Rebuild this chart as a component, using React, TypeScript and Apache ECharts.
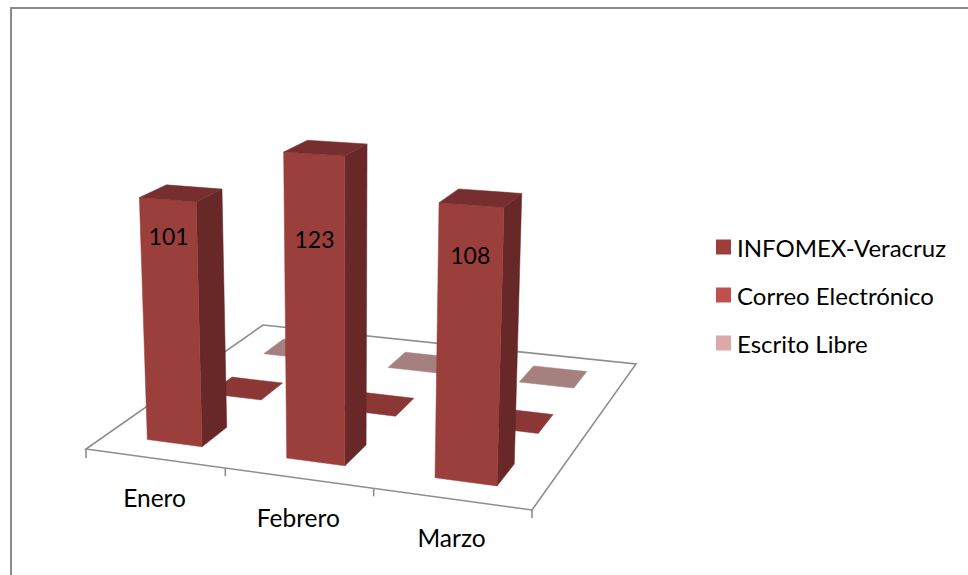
import React, { useEffect, useRef } from "react";
import * as echarts from "echarts";

const categories = ["Enero", "Febrero", "Marzo"];
const infomexVeracruz = [101, 123, 108];
const correoElectronico = [0, 0, 0];
const escritoLibre = [0, 0, 0];
const seriesNames = ["INFOMEX-Veracruz", "Correo Electrónico", "Escrito Libre"];

const FONT = "Lato, 'Noto Sans', sans-serif";
const W = 968;
const H = 575;
const Y_MAX = 140;

// Projection of the 3D floor (u along categories, v into the depth, h upward)
const [X0, Y0, X1, Y1, X2, Y2, X3, Y3] = [86, 449, 532, 510, 636, 364, 263, 325];
const dx1 = X1 - X2, dx2 = X3 - X2, sx = X0 - X1 + X2 - X3;
const dy1 = Y1 - Y2, dy2 = Y3 - Y2, sy = Y0 - Y1 + Y2 - Y3;
const den = dx1 * dy2 - dx2 * dy1;
const pg = (sx * dy2 - dx2 * sy) / den;
const ph = (dx1 * sy - sx * dy1) / den;
const pa = X1 - X0 + pg * X1, pb = X3 - X0 + ph * X3;
const pd = Y1 - Y0 + pg * Y1, pe = Y3 - Y0 + ph * Y3;
const VX = 347, VY = 6500, HEIGHT_K = -0.000385;

function project(u: number, v: number, h = 0): number[] {
  const t = HEIGHT_K * h;
  const w = pg * u + ph * v + 1 + t;
  return [(pa * u + pb * v + X0 + t * VX) / w, (pd * u + pe * v + Y0 + t * VY) / w];
}

const BAR_FRACTION = 0.4;
const LABEL_POS = [0.856, 0.733, 0.826];

const faces = [
  { legend: "#9b3f3d", front: "#9b3f3d", side: "#672827", top: "#762f2e" },
  { legend: "#c0504d", front: "#c0504d", side: "#803533", top: "#8a3736" },
  { legend: "#dba9a7", front: "#dba9a7", side: "#a67f7d", top: "#a6807e" },
];

function makeBarRender(row: number) {
  return (_params: any, api: any) => {
    const i = api.value(0);
    const value = api.value(1);
    const band = api.size([1, 0])[0] / W;
    const uc = api.coord([i, 0])[0] / W;
    const h = ((api.coord([i, 0])[1] - api.coord([i, value])[1]) / H) * Y_MAX;
    const half = (band * BAR_FRACTION) / 2;
    const vc = (row + 0.5) * band;
    const u0 = uc - half, u1 = uc + half, v0 = vc - half, v1 = vc + half;
    const c = faces[row];
    const poly = (pts: number[][], fill: string) => ({
      type: "polygon",
      shape: { points: pts },
      style: { fill, stroke: fill, lineWidth: 0.5 },
    });
    const children: any[] = [];
    if (value > 0) {
      children.push(
        poly([project(u1, v0), project(u1, v1), project(u1, v1, h), project(u1, v0, h)], c.side),
        poly([project(u0, v0), project(u1, v0), project(u1, v0, h), project(u0, v0, h)], c.front)
      );
    }
    children.push(poly([project(u0, v0, h), project(u1, v0, h), project(u1, v1, h), project(u0, v1, h)], c.top));
    if (value > 0) {
      const p = project(uc, v0, h * LABEL_POS[i]);
      children.push({
        type: "text",
        style: {
          text: String(value),
          x: p[0],
          y: p[1],
          align: "center",
          verticalAlign: "middle",
          fill: "#000",
          font: `23px ${FONT}`,
        },
      });
    }
    return { type: "group", children };
  };
}

function renderFloor(params: any, api: any) {
  const i = api.value(0);
  const band = api.size([1, 0])[0] / W;
  const uc = api.coord([i, 0])[0] / W;
  const children: any[] = [];
  const line = { stroke: "#8e8e8e", lineWidth: 1.6, fill: "none" };
  if (params.dataIndex === 0) {
    children.push({
      type: "polygon",
      shape: { points: [project(0, 0), project(1, 0), project(1, 1), project(0, 1)] },
      style: { fill: "#fff", stroke: "#8e8e8e", lineWidth: 1.6 },
    });
    const a = project(0, 0);
    children.push({ type: "line", shape: { x1: a[0], y1: a[1], x2: a[0], y2: a[1] + 9 }, style: line });
  }
  const e = project(uc + band / 2, 0);
  children.push({ type: "line", shape: { x1: e[0], y1: e[1], x2: e[0], y2: e[1] + 8 }, style: line });
  const m = project(uc, 0);
  children.push({
    type: "text",
    style: {
      text: categories[i],
      x: m[0],
      y: m[1] + 39,
      align: "center",
      verticalAlign: "middle",
      fill: "#000",
      font: `24.5px ${FONT}`,
    },
  });
  return { type: "group", children };
}

const seriesValues = [infomexVeracruz, correoElectronico, escritoLibre];

export default function App() {
  const ref = useRef<HTMLDivElement>(null);
  useEffect(() => {
    const chart = echarts.init(ref.current!, undefined, { renderer: "svg" });
    const barSeries = [2, 1, 0].map((row) => ({
      type: "custom",
      name: seriesNames[row],
      silent: true,
      itemStyle: { color: faces[row].legend },
      encode: { x: 0, y: 1 },
      data: seriesValues[row].map((v, i) => [i, v]),
      renderItem: makeBarRender(row),
      clip: false,
    }));
    chart.setOption({
      animation: false,
      backgroundColor: "#fff",
      grid: { left: 0, top: 0, right: 0, bottom: 0, show: false },
      xAxis: { type: "category", data: categories, show: false },
      yAxis: { type: "value", min: 0, max: Y_MAX, show: false },
      legend: {
        orient: "vertical",
        left: 716,
        top: 235,
        padding: 0,
        icon: "rect",
        itemWidth: 15,
        itemHeight: 15,
        itemGap: 24,
        selectedMode: false,
        data: seriesNames,
        textStyle: { fontFamily: FONT, fontSize: 24, color: "#000", padding: [0, 0, 0, 1] },
      },
      graphic: [
        {
          type: "rect",
          silent: true,
          z: -1,
          shape: { x: 11, y: 8, width: 1000, height: 1000 },
          style: { fill: "none", stroke: "#8a8a8a", lineWidth: 2 },
        },
      ],
      series: [
        {
          type: "custom",
          name: "floor",
          silent: true,
          encode: { x: 0, y: 1 },
          data: categories.map((_, i) => [i, 0]),
          renderItem: renderFloor,
          clip: false,
        },
        ...barSeries,
      ],
    });
    return () => chart.dispose();
  }, []);
  return <div ref={ref} style={{ position: "absolute", left: 0, top: 0, width: W, height: H, overflow: "hidden" }} />;
}
